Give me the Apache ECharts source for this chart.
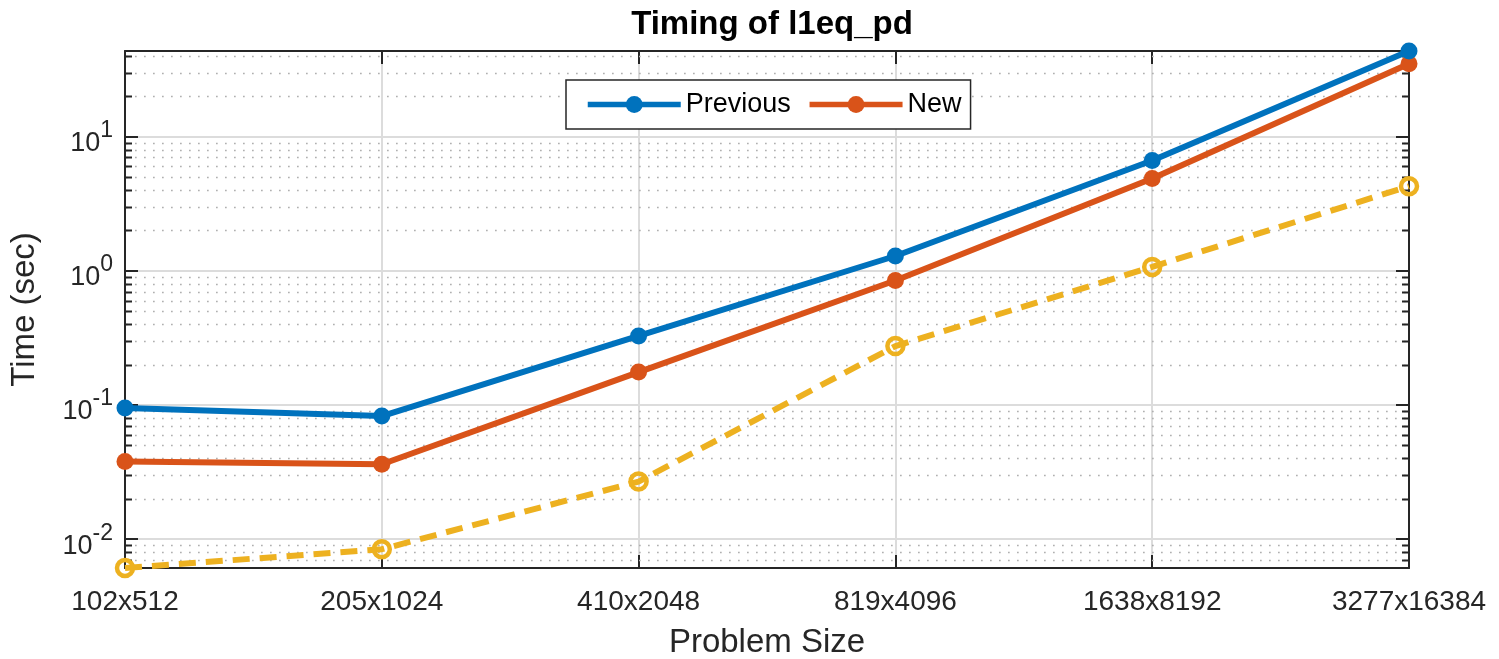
<!DOCTYPE html>
<html>
<head>
<meta charset="utf-8">
<script src="https://cdn.jsdelivr.net/npm/echarts@6/dist/echarts.min.js"></script>
<style>
html,body{margin:0;padding:0;background:#fff;}
#chart{width:1499px;height:659px;}
</style>
</head>
<body>
<div id="chart"></div>
<script>
const categories = ['102x512', '205x1024', '410x2048', '819x4096', '1638x8192', '3277x16384'];
const previousTimes = [0.095, 0.0828, 0.327, 1.29, 6.65, 43.5];
const newTimes = [0.0379, 0.0362, 0.176, 0.848, 4.88, 34.9];
const otherTimes = [0.0061, 0.00842, 0.0269, 0.275, 1.07, 4.27];
const yMin = 0.0061;
const yMax = 43.5;
const minorTickValues = [0.007, 0.008, 0.009,
  0.02, 0.03, 0.04, 0.05, 0.06, 0.07, 0.08, 0.09,
  0.2, 0.3, 0.4, 0.5, 0.6, 0.7, 0.8, 0.9,
  2, 3, 4, 5, 6, 7, 8, 9,
  20, 30, 40];

const AX = '#262626';
const chart = echarts.init(document.getElementById('chart'), null, {renderer: 'canvas'});

function powLabel(v) {
  const e = Math.round(Math.log10(v));
  if (Math.abs(Math.log10(v) - e) > 1e-6) return '';
  return '{b|10}{s|' + e + '}';
}

const yLabelRich = {
  b: {fontSize: 27, color: AX, fontFamily: 'Liberation Sans', padding: [14, 0, 0, 0]},
  s: {fontSize: 23, color: AX, fontFamily: 'Liberation Sans', padding: [0, 0, 12, 0]}
};

const option = {
  backgroundColor: '#fff',
  animation: false,
  title: {
    text: 'Timing of l1eq_pd',
    left: 767,
    top: 3,
    textAlign: 'center',
    textStyle: {fontFamily: 'Liberation Sans', fontWeight: 'bold', fontSize: 33, color: '#000'}
  },
  legend: {
    data: ['Previous', 'New'],
    left: 566,
    top: 80,
    orient: 'horizontal',
    itemWidth: 93,
    itemHeight: 21,
    itemGap: 16,
    padding: [11, 9, 11, 19],
    backgroundColor: '#fff',
    borderColor: AX,
    borderWidth: 1.5,
    borderRadius: 0,
    lineStyle: {width: 5.5},
    textStyle: {fontFamily: 'Liberation Sans', fontSize: 27, color: '#000'}
  },
  grid: {left: 125, right: 90, top: 51, bottom: 91, containLabel: false, outerBoundsMode: 'none'},
  xAxis: [{
    type: 'category',
    data: categories,
    boundaryGap: false,
    position: 'bottom',
    name: 'Problem Size',
    nameLocation: 'middle',
    nameGap: 58,
    nameTextStyle: {fontFamily: 'Liberation Sans', fontSize: 33, color: AX},
    axisLine: {show: true, onZero: false, lineStyle: {color: AX, width: 2}},
    axisTick: {show: true, inside: true, length: 13, alignWithLabel: true, lineStyle: {color: AX, width: 2}},
    axisLabel: {fontFamily: 'Liberation Sans', fontSize: 28, color: AX, margin: 20},
    splitLine: {show: true, lineStyle: {color: '#dcdcdc', width: 2}}
  }, {
    type: 'category',
    data: categories,
    boundaryGap: false,
    position: 'top',
    axisLine: {show: true, onZero: false, lineStyle: {color: AX, width: 2}},
    axisTick: {show: true, inside: true, length: 13, lineStyle: {color: AX, width: 2}},
    axisLabel: {show: false},
    splitLine: {show: false}
  }],
  yAxis: [{
    type: 'log',
    logBase: 10,
    min: yMin,
    max: yMax,
    position: 'left',
    name: 'Time (sec)',
    nameLocation: 'middle',
    nameGap: 84,
    nameTextStyle: {fontFamily: 'Liberation Sans', fontSize: 33, color: AX},
    axisLine: {show: true, onZero: false, lineStyle: {color: AX, width: 2}},
    axisTick: {show: true, inside: true, length: 13, lineStyle: {color: AX, width: 2}},
    axisLabel: {
      show: true, margin: 12, showMinLabel: false, showMaxLabel: false,
      formatter: powLabel, rich: yLabelRich
    },
    splitLine: {show: true, lineStyle: {color: '#dcdcdc', width: 2}}
  }, {
    type: 'log',
    logBase: 10,
    min: yMin,
    max: yMax,
    position: 'right',
    axisLine: {show: true, onZero: false, lineStyle: {color: AX, width: 2}},
    axisTick: {show: true, inside: true, length: 13, lineStyle: {color: AX, width: 2}},
    axisLabel: {show: false},
    splitLine: {show: false}
  }],
  series: [{
    name: 'minor-grid',
    type: 'custom',
    xAxisIndex: 0,
    yAxisIndex: 0,
    silent: true,
    z: 1,
    data: minorTickValues.map(v => [0, v]),
    renderItem: function (params, api) {
      const cs = params.coordSys;
      const y = Math.round(api.coord([0, api.value(1)])[1]) + 0.5;
      return {
        type: 'group',
        children: [
          {type: 'line', shape: {x1: cs.x + 1, y1: y, x2: cs.x + cs.width, y2: y},
            style: {stroke: '#b0b0b0', lineWidth: 1.7, lineDash: [1.7, 7.3]}},
          {type: 'line', shape: {x1: cs.x, y1: y, x2: cs.x + 7, y2: y},
            style: {stroke: AX, lineWidth: 2}},
          {type: 'line', shape: {x1: cs.x + cs.width - 7, y1: y, x2: cs.x + cs.width, y2: y},
            style: {stroke: AX, lineWidth: 2}}
        ]
      };
    }
  }, {
    name: 'Other',
    type: 'line',
    data: otherTimes,
    z: 3,
    symbol: 'circle',
    symbolSize: 16,
    clip: false,
    lineStyle: {color: '#EDB120', width: 6, type: [17, 10]},
    itemStyle: {color: 'rgba(255,255,255,0)', borderColor: '#EDB120', borderWidth: 4.5}
  }, {
    name: 'New',
    type: 'line',
    data: newTimes,
    z: 4,
    symbol: 'circle',
    symbolSize: 17,
    clip: false,
    lineStyle: {color: '#D95319', width: 6},
    itemStyle: {color: '#D95319'}
  }, {
    name: 'Previous',
    type: 'line',
    data: previousTimes,
    z: 5,
    symbol: 'circle',
    symbolSize: 17,
    clip: false,
    lineStyle: {color: '#0072BD', width: 6},
    itemStyle: {color: '#0072BD'}
  }]
};
chart.setOption(option);
</script>
</body>
</html>
